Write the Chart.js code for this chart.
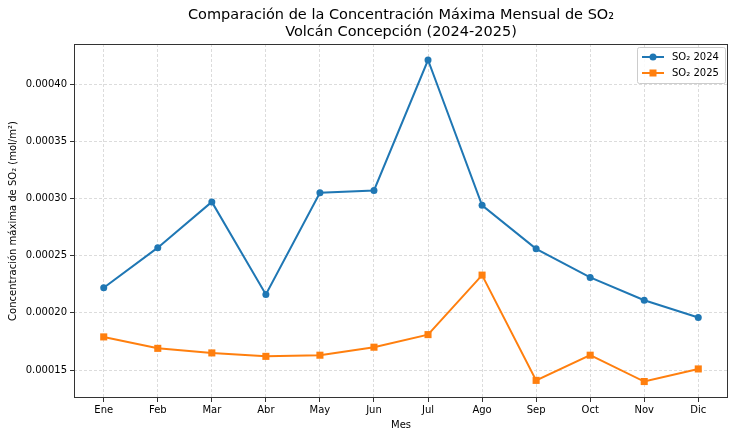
<!DOCTYPE html>
<html>
<head>
<meta charset="utf-8">
<script src="https://cdn.jsdelivr.net/npm/chart.js@4/dist/chart.umd.min.js"></script>
<style>
html,body{margin:0;padding:0;background:#fff;}
#wrap{width:736px;height:436px;position:relative;}
</style>
</head>
<body>
<div id="wrap"><canvas id="c" width="736" height="436"></canvas></div>
<script>
const months = ["Ene","Feb","Mar","Abr","May","Jun","Jul","Ago","Sep","Oct","Nov","Dic"];
const so2_2024 = [0.000222,0.000257,0.000297,0.000216,0.000305,0.000307,0.000421,0.000294,0.000256,0.000231,0.000211,0.000196];
const so2_2025 = [0.000179,0.000169,0.000165,0.000162,0.000163,0.000170,0.000181,0.000233,0.000141,0.000163,0.000140,0.000151];
const seriesNames = ["SO₂ 2024","SO₂ 2025"];
const yTicks = [0.00015,0.00020,0.00025,0.00030,0.00035,0.00040];
const titleLines = ["Comparación de la Concentración Máxima Mensual de SO₂","Volcán Concepción (2024-2025)"];
const yTitle = "Concentración máxima de SO₂ (mol/m²)";
const xTitle = "Mes";

const FONT = "'DejaVu Sans', sans-serif";
const toPts = arr => arr.map((v,i)=>({x:i,y:v}));

const framePlugin = {
  id:'frame',
  afterDraw(chart){
    const {ctx, chartArea:a} = chart;
    ctx.save();
    ctx.strokeStyle='#333';
    ctx.lineWidth=1;
    ctx.strokeRect(Math.round(a.left)+0.5, Math.round(a.top)+0.5, Math.round(a.right-a.left)-1, Math.round(a.bottom-a.top)-1);
    // title
    ctx.fillStyle='#000';
    ctx.font = "14.5px "+FONT;
    ctx.textAlign='center';
    ctx.textBaseline='middle';
    const cx=(a.left+a.right)/2;
    ctx.fillText(titleLines[0], cx, 15);
    ctx.fillText(titleLines[1], cx, 32);
    // legend
    const ds = chart.data.datasets;
    const lx = a.right-91, ly = a.top+3, lw = 88, lh = 36;
    ctx.fillStyle='rgba(255,255,255,0.85)';
    ctx.strokeStyle='#cccccc';
    ctx.lineWidth=1;
    ctx.beginPath();
    if (ctx.roundRect) ctx.roundRect(lx+0.5,ly+0.5,lw,lh,2); else ctx.rect(lx+0.5,ly+0.5,lw,lh);
    ctx.fill(); ctx.stroke();
    ds.forEach((d,i)=>{
      const y = ly + 10 + i*16;
      ctx.strokeStyle=d.borderColor; ctx.lineWidth=2;
      ctx.beginPath(); ctx.moveTo(lx+5,y); ctx.lineTo(lx+27,y); ctx.stroke();
      ctx.fillStyle=d.borderColor;
      if (d.pointStyle==='rect'){ ctx.fillRect(lx+16-3.5,y-3.5,7,7); }
      else { ctx.beginPath(); ctx.arc(lx+16,y,3.5,0,Math.PI*2); ctx.fill(); }
      ctx.fillStyle='#000'; ctx.font="10px "+FONT; ctx.textAlign='left'; ctx.textBaseline='middle';
      ctx.fillText(d.label, lx+35, y+0.5);
    });
    ctx.restore();
  }
};

new Chart(document.getElementById('c'), {
  type:'line',
  data:{
    datasets:[
      {label:seriesNames[0], data:toPts(so2_2024), borderColor:'#1f77b4', backgroundColor:'#1f77b4', borderWidth:2, pointStyle:'circle', pointRadius:3.5, pointBorderWidth:0, tension:0},
      {label:seriesNames[1], data:toPts(so2_2025), borderColor:'#ff7f0e', backgroundColor:'#ff7f0e', borderWidth:2, pointStyle:'rect', pointRadius:5, pointBorderWidth:0, tension:0}
    ]
  },
  options:{
    responsive:false, animation:false,
    layout:{padding:{left:0,right:8,top:44,bottom:0}},
    plugins:{legend:{display:false}, title:{display:false}, tooltip:{enabled:false}},
    scales:{
      x:{
        type:'linear', min:-0.55, max:11.55,
        afterBuildTicks(s){ s.ticks = months.map((m,i)=>({value:i})); },
        afterFit(s){ s.height=38; },
        ticks:{callback:v=>months[v], color:'#000', font:{family:FONT,size:10}, padding:2, maxRotation:0, autoSkip:false},
        grid:{color:'#d3d3d3', lineWidth:0.8, tickLength:4, tickColor:'#333', tickBorderDash:[], tickWidth:1, drawOnChartArea:true},
        border:{display:false, dash:[3,2]},
        title:{display:true, text:xTitle, color:'#000', font:{family:FONT,size:10}, padding:{top:0,bottom:5}}
      },
      y:{
        type:'linear', min:0.0001256, max:0.000435,
        afterBuildTicks(s){ s.ticks = yTicks.map(v=>({value:v})); },
        afterFit(s){ s.width=74; },
        ticks:{callback:v=>v.toFixed(5), color:'#000', font:{family:FONT,size:10}, padding:3},
        grid:{color:'#d3d3d3', lineWidth:0.8, tickLength:4, tickColor:'#333', tickBorderDash:[], tickWidth:1},
        border:{display:false, dash:[3,2]},
        title:{display:true, text:yTitle, color:'#000', font:{family:FONT,size:10}, padding:{top:7,bottom:0}}
      }
    }
  },
  plugins:[framePlugin]
});
</script>
</body>
</html>
